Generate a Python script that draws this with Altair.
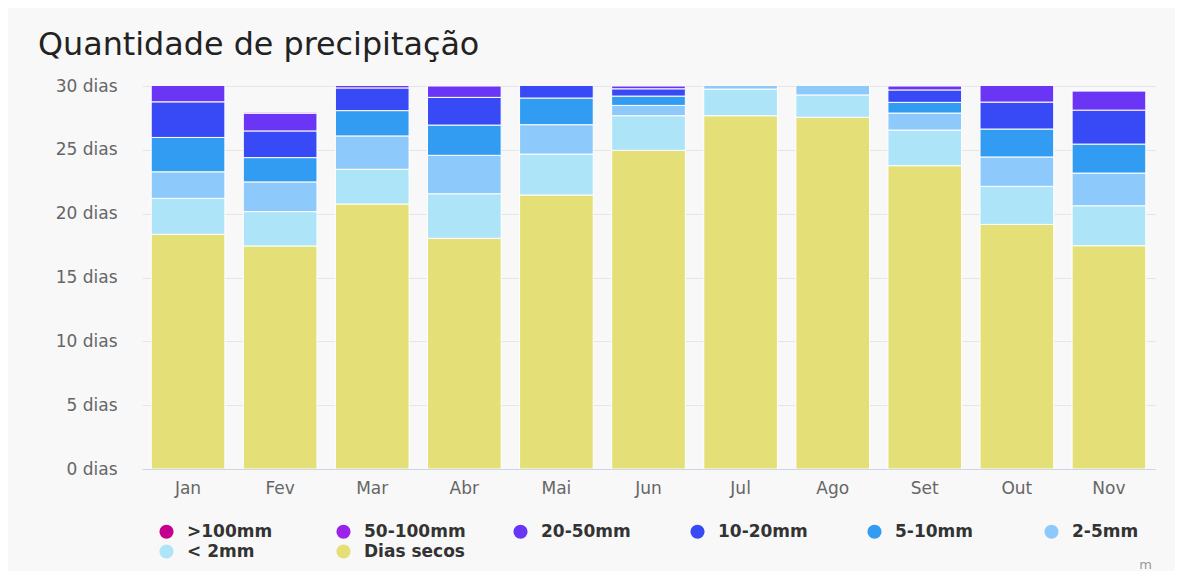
import altair as alt
import pandas as pd

months = ["Jan", "Fev", "Mar", "Abr", "Mai", "Jun", "Jul", "Ago", "Set", "Out", "Nov"]
series = [">100mm", "50-100mm", "20-50mm", "10-20mm", "5-10mm", "2-5mm", "< 2mm", "Dias secos"]
colors = ["#C4008E", "#9A22EA", "#6B35F6", "#3849F6", "#329CF2", "#8DC9FA", "#AEE4F8", "#E4E077"]

dry = [18.38, 17.47, 20.76, 18.07, 21.46, 24.96, 27.67, 27.55, 23.76, 19.16, 17.49]
lt2 = [2.82, 2.69, 2.72, 3.49, 3.21, 2.71, 2.09, 1.75, 2.79, 2.98, 3.13]
mm2_5 = [2.08, 2.33, 2.61, 3.01, 2.30, 0.81, 0.60, 0.90, 1.33, 2.30, 2.56]
mm5_10 = [2.69, 1.90, 1.98, 2.37, 2.09, 0.73, 0.35, 0.40, 0.84, 2.19, 2.27]
mm10_20 = [2.79, 2.09, 1.78, 2.17, 1.20, 0.57, 0.25, 0.30, 0.97, 2.11, 2.66]
mm20_50 = [1.90, 1.39, 1.15, 0.89, 0.60, 0.22, 0.04, 0.10, 0.31, 2.00, 1.49]
mm50_100 = [0.30, 0.08, 0.00, 0.00, 0.10, 0.00, 0.00, 0.00, 0.00, 0.26, 0.00]
mm100 = [0.04, 0.00, 0.00, 0.00, 0.00, 0.00, 0.00, 0.00, 0.00, 0.00, 0.00]

values = {
    "Dias secos": dry, "< 2mm": lt2, "2-5mm": mm2_5, "5-10mm": mm5_10,
    "10-20mm": mm10_20, "20-50mm": mm20_50, "50-100mm": mm50_100, ">100mm": mm100,
}
stack_order = ["Dias secos", "< 2mm", "2-5mm", "5-10mm", "10-20mm", "20-50mm", "50-100mm", ">100mm"]

rows = []
for s in stack_order:
    for m, v in zip(months, values[s]):
        if v > 0:
            rows.append({"mes": m, "serie": s, "dias": v, "ord": stack_order.index(s)})
df = pd.DataFrame(rows)

FONT = "DejaVu Sans"

bars = alt.Chart(df).mark_bar(stroke="white", strokeWidth=1, clip=True).encode(
    x=alt.X("mes:N", sort=months, title=None,
            scale=alt.Scale(paddingInner=0.2, paddingOuter=0.1),
            axis=alt.Axis(labelAngle=0, labelFontSize=17, labelColor="#666666",
                          labelFont=FONT, ticks=False, domainColor="#ccd6eb",
                          labelPadding=11)),
    y=alt.Y("dias:Q", stack="zero", title=None,
            scale=alt.Scale(domain=[0, 30], nice=False),
            axis=alt.Axis(values=[0, 5, 10, 15, 20, 25, 30], labelExpr="datum.value + ' dias'",
                          labelFontSize=17, labelColor="#666666", labelFont=FONT,
                          ticks=False, domain=False, gridColor="#e6e6e6", labelPadding=25)),
    color=alt.Color("serie:N", scale=alt.Scale(domain=series, range=colors),
                    legend=alt.Legend(title=None, orient="none", legendX=16, legendY=437,
                                      direction="horizontal",
                                      columns=6, gridAlign="all", columnPadding=46,
                                      rowPadding=2, symbolType="circle", symbolSize=200,
                                      symbolStrokeWidth=0, labelFontSize=17, labelFont=FONT,
                                      labelColor="#333333", labelFontWeight="bold",
                                      padding=0, labelOffset=12)),
    order=alt.Order("ord:Q", sort="ascending"),
)

credit = alt.Chart(pd.DataFrame({"t": ["m"]})).mark_text(
    font=FONT, fontSize=13, color="#999999", align="right", baseline="alphabetic"
).encode(text="t:N", x=alt.value(1010), y=alt.value(483))

chart = alt.layer(bars, credit).properties(
    width=1013, height=383,
    title=alt.TitleParams("Quantidade de precipitação", anchor="start", frame="group",
                          dx=-104, fontSize=31.8, font=FONT, fontWeight="normal",
                          color="#222222", offset=15),
    autosize=alt.AutoSizeParams(type="none"),
    padding={"left": 134, "top": 78, "right": 20, "bottom": 102},
    background="#f8f8f8",
).configure_view(stroke=None)

chart.save("out.html", embed_options={"renderer": "svg", "actions": False})
